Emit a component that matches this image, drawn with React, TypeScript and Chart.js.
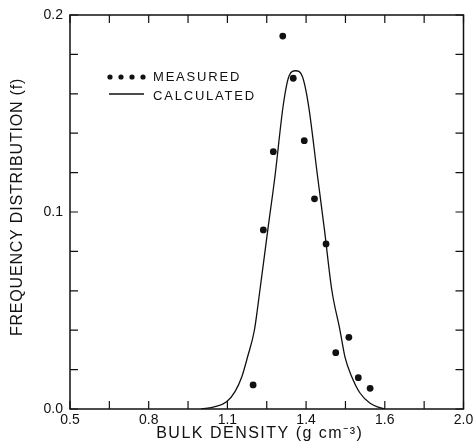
import React, { useEffect, useRef } from "react";
import { Chart, registerables } from "chart.js";

Chart.register(...registerables);

// Measured frequency distribution (points)
const MEASURED_X = [1.198, 1.237, 1.275, 1.311, 1.351, 1.393, 1.432, 1.476, 1.513, 1.563, 1.599, 1.644];
const MEASURED_F = [0.0122, 0.0909, 0.1306, 0.1893, 0.1679, 0.1362, 0.1067, 0.0838, 0.0286, 0.0364, 0.0159, 0.0105];

// Calculated curve
const CALC_X = [1.0, 1.053, 1.097, 1.129, 1.155, 1.177, 1.203, 1.224, 1.254, 1.282, 1.313, 1.335, 1.36, 1.385, 1.409, 1.443, 1.47, 1.498, 1.529, 1.548, 1.574, 1.606, 1.644, 1.675, 1.7];
const CALC_F = [0.0, 0.0012, 0.0037, 0.0088, 0.0164, 0.0265, 0.0401, 0.0604, 0.0909, 0.1188, 0.1543, 0.169, 0.1717, 0.169, 0.1543, 0.1188, 0.0909, 0.0604, 0.0401, 0.0265, 0.0164, 0.008, 0.0029, 0.0009, 0.0];

const X_TICK_LABELS = ["0.5", "0.8", "1.1", "1.4", "1.6", "2.0"];
const Y_TICK_LABELS = ["0.0", "0.1", "0.2"];

const X_TITLE = "BULK DENSITY (g cm\u207B\u00B3)";
const Y_TITLE = "FREQUENCY DISTRIBUTION (f)";
const LEGEND_MEASURED = "MEASURED";
const LEGEND_CALCULATED = "CALCULATED";

const INK = "#111";
const FONT = '"Liberation Sans", Arial, sans-serif';

const framePlugin = {
  id: "frame",
  afterDraw(chart: any) {
    const { ctx, chartArea: a, scales } = chart;
    const xs = scales.x;
    const ys = scales.y;
    ctx.save();
    ctx.strokeStyle = INK;
    ctx.lineWidth = 1.5;
    ctx.strokeRect(a.left, a.top, a.right - a.left, a.bottom - a.top);
    ctx.lineWidth = 1.2;
    ctx.beginPath();
    xs.ticks.forEach((_: any, i: number) => {
      const px = xs.getPixelForTick(i);
      ctx.moveTo(px, a.bottom);
      ctx.lineTo(px, a.bottom - 8);
      ctx.moveTo(px, a.top);
      ctx.lineTo(px, a.top + 8);
    });
    ys.ticks.forEach((_: any, i: number) => {
      const py = ys.getPixelForTick(i);
      ctx.moveTo(a.left, py);
      ctx.lineTo(a.left + 8, py);
      ctx.moveTo(a.right, py);
      ctx.lineTo(a.right - 8, py);
    });
    ctx.stroke();

    // axis titles
    ctx.fillStyle = INK;
    ctx.textAlign = "center";
    ctx.textBaseline = "middle";
    ctx.font = `16px ${FONT}`;
    (ctx as any).letterSpacing = "1.5px";
    ctx.fillText(X_TITLE, (a.left + a.right) / 2 - 7, a.bottom + 25);
    (ctx as any).letterSpacing = "0.8px";
    ctx.save();
    ctx.translate(18, (a.top + a.bottom) / 2 - 5);
    ctx.rotate(-Math.PI / 2);
    ctx.fillText(Y_TITLE, 0, 0);
    ctx.restore();

    // legend
    const lx = a.left + 40;
    const ly1 = a.top + 62;
    const ly2 = a.top + 80;
    for (let i = 0; i < 4; i++) {
      ctx.beginPath();
      ctx.arc(lx + i * 11, ly1, 2.6, 0, Math.PI * 2);
      ctx.fill();
    }
    ctx.lineWidth = 1.3;
    ctx.beginPath();
    ctx.moveTo(lx - 1, ly2 - 1);
    ctx.lineTo(lx + 34, ly2 - 1);
    ctx.stroke();
    ctx.font = `13px ${FONT}`;
    (ctx as any).letterSpacing = "1.8px";
    ctx.textAlign = "left";
    ctx.fillText(LEGEND_MEASURED, lx + 43, ly1);
    ctx.fillText(LEGEND_CALCULATED, lx + 43, ly2 + 1);
    ctx.restore();
  },
};

export default function App() {
  const ref = useRef<HTMLCanvasElement>(null);
  useEffect(() => {
    document.body.style.margin = "0";
    const canvas = ref.current!;
    const chart = new Chart(canvas, {
      type: "scatter",
      data: {
        datasets: [
          {
            label: LEGEND_MEASURED,
            data: MEASURED_X.map((x, i) => ({ x, y: MEASURED_F[i] })),
            showLine: false,
            pointRadius: 3.4,
            pointBorderWidth: 0,
            pointBackgroundColor: INK,
            backgroundColor: INK,
            order: 0,
          },
          {
            label: LEGEND_CALCULATED,
            data: CALC_X.map((x, i) => ({ x, y: CALC_F[i] })),
            showLine: true,
            borderColor: INK,
            borderWidth: 1.3,
            pointRadius: 0,
            cubicInterpolationMode: "monotone",
            fill: false,
            order: 1,
          } as any,
        ],
      },
      options: {
        responsive: false,
        animation: false,
        layout: { padding: { left: 0, right: 11.5, top: 15, bottom: 0 } },
        plugins: { legend: { display: false }, tooltip: { enabled: false } },
        scales: {
          x: {
            type: "linear",
            min: 0.5,
            max: 2.0,
            grid: { display: false, drawTicks: false },
            border: { display: false },
            ticks: {
              stepSize: 0.15,
              autoSkip: false,
              maxRotation: 0,
              padding: 3,
              color: INK,
              font: { family: FONT, size: 14 },
              callback: (_v: any, i: number) => (i % 2 === 0 ? X_TICK_LABELS[i / 2] : ""),
            },
            afterFit: (s: any) => {
              s.height = 39;
              s.paddingLeft = 0;
              s.paddingRight = 0;
            },
          },
          y: {
            type: "linear",
            min: 0,
            max: 0.2,
            grid: { display: false, drawTicks: false },
            border: { display: false },
            ticks: {
              stepSize: 0.02,
              autoSkip: false,
              padding: 7,
              color: INK,
              font: { family: FONT, size: 14 },
              callback: (_v: any, i: number) => (i % 5 === 0 ? Y_TICK_LABELS[i / 5] : ""),
            },
            afterFit: (s: any) => {
              s.width = 70;
              s.paddingTop = 0;
              s.paddingBottom = 0;
            },
          },
        },
      },
      plugins: [framePlugin],
    });
    return () => chart.destroy();
  }, []);
  return (
    <div style={{ position: "absolute", left: 0, top: 0, width: 475, height: 448, background: "#fff" }}>
      <canvas ref={ref} width={475} height={448} style={{ width: 475, height: 448 }} />
    </div>
  );
}
